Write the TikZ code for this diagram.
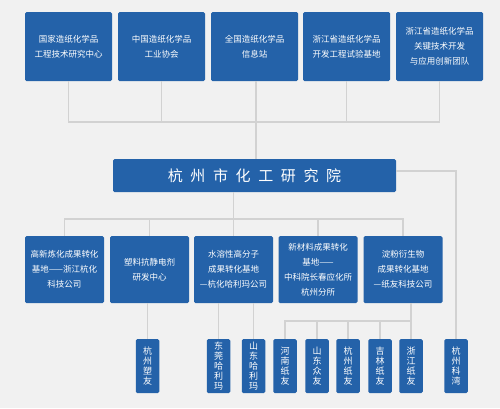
\documentclass[tikz,border=0pt]{standalone}
\usepackage{fontspec}
\newfontfamily\cjk{Noto Sans CJK SC}
\definecolor{boxblue}{HTML}{2462A9}
\definecolor{bgc}{HTML}{F1F1F1}
\definecolor{linec}{HTML}{D2D2D2}
\begin{document}
\begin{tikzpicture}[x=1pt,y=-1pt,
  blk/.style={fill=boxblue,rounded corners=1.5pt,inner sep=0pt,text=white,align=center,font=\cjk\fontsize{8.5}{15}\selectfont},
  topbox/.style={blk,minimum width=87pt,minimum height=69pt},
  midbox/.style={blk,minimum width=79pt,minimum height=67pt},
  vbox/.style={blk,minimum width=23.5pt,minimum height=54pt,font=\cjk\fontsize{9}{10}\selectfont},
  mainbox/.style={blk,minimum width=283pt,minimum height=33pt,font=\cjk\fontsize{15}{18}\selectfont},
  conn/.style={draw=linec,line width=1.5pt}]
\fill[bgc] (0,0) rectangle (500,408);
\useasboundingbox (0,0) rectangle (500,408);
% top row
\node[topbox] (t1) at (68.5,46.5) {国家造纸化学品\\工程技术研究中心};
\node[topbox] (t2) at (161.5,46.5) {中国造纸化学品\\工业协会};
\node[topbox] (t3) at (254.5,46.5) {全国造纸化学品\\信息站};
\node[topbox] (t4) at (346.5,46.5) {浙江省造纸化学品\\开发工程试验基地};
\node[topbox] (t5) at (439.5,46.5) {浙江省造纸化学品\\关键技术开发\\与应用创新团队};
% main
\node[mainbox] (m) at (254.5,175.5) {杭\hspace{7.6pt}州\hspace{7.6pt}市\hspace{7.6pt}化\hspace{7.6pt}工\hspace{7.6pt}研\hspace{7.6pt}究\hspace{7.6pt}院};
% second row
\node[midbox] (r1) at (64.5,269.5) {高新炼化成果转化\\基地——浙江杭化\\科技公司};
\node[midbox] (r2) at (149.5,269.5) {塑料抗静电剂\\研发中心};
\node[midbox] (r3) at (233.5,269.5) {水溶性高分子\\成果转化基地\\—杭化哈利玛公司};
\node[midbox] (r4) at (318,269.5) {新材料成果转化\\基地——\\中科院长春应化所\\杭州分所};
\node[midbox] (r5) at (403,269.5) {淀粉衍生物\\成果转化基地\\—纸友科技公司};
% bottom row
\node[vbox] (b1) at (147.5,366) {杭\\州\\塑\\友};
\node[vbox] (b2) at (218.5,366) {东\\莞\\哈\\利\\玛};
\node[vbox] (b3) at (253.5,366) {山\\东\\哈\\利\\玛};
\node[vbox] (b4) at (285,366) {河\\南\\纸\\友};
\node[vbox] (b5) at (317,366) {山\\东\\众\\友};
\node[vbox] (b6) at (348,366) {杭\\州\\纸\\友};
\node[vbox] (b7) at (380,366) {吉\\林\\纸\\友};
\node[vbox] (b8) at (411,366) {浙\\江\\纸\\友};
\node[vbox] (b9) at (456,366) {杭\\州\\科\\湾};
% bus coordinates
\coordinate (bus1) at (0,122);
\coordinate (bus2) at (0,219);
\coordinate (bus3) at (0,321);
% top connectors
\draw[conn] (t1.south) -- (t1.south |- bus1) -- (t5.south |- bus1) -- (t5.south);
\draw[conn] (t2.south) -- (t2.south |- bus1);
\draw[conn] (t4.south) -- (t4.south |- bus1);
\draw[conn] ([xshift=1.5pt]t3.south) -- ([xshift=1.5pt]m.north);
% main to second row
\draw[conn] (r3.north) -- (m.south -| r3.north);
\draw[conn] (r1.north) -- (r1.north |- bus2) -- (r5.north |- bus2) -- (r5.north);
\draw[conn] (r2.north) -- (r2.north |- bus2);
\draw[conn] (r4.north) -- (r4.north |- bus2);
% main to 杭州科湾
\draw[conn] ([yshift=4.5pt]m.east) -| (b9.north);
% second row to bottom
\draw[conn] (b1.north) -- (b1.north |- r2.south);
\draw[conn] (b2.north) -- (b2.north |- r3.south);
\draw[conn] (b3.north) -- (b3.north |- r3.south);
\draw[conn] (b8.north) -- (b8.north |- r5.south);
\draw[conn] (b4.north) -- (b4.north |- bus3) -- (b8.north |- bus3);
\draw[conn] (b5.north) -- (b5.north |- bus3);
\draw[conn] (b6.north) -- (b6.north |- bus3);
\draw[conn] (b7.north) -- (b7.north |- bus3);
\end{tikzpicture}
\end{document}
